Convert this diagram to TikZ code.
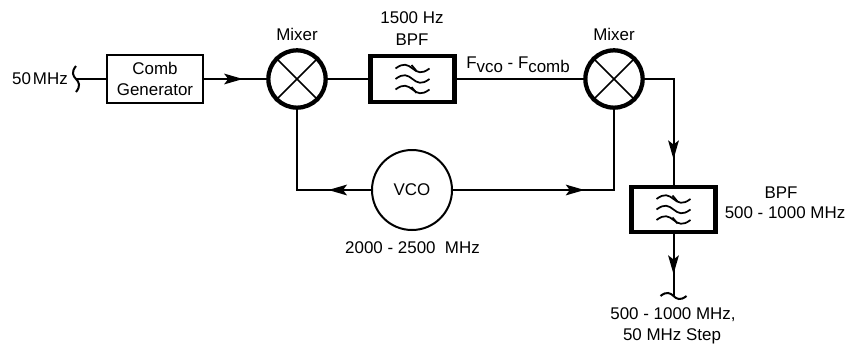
\documentclass[tikz,border=0pt]{standalone}
\usepackage{fontspec}
\setmainfont{Liberation Sans}
\usepackage{tikz}
\usetikzlibrary{arrows.meta,decorations.markings}

\tikzset{
  wire/.style={line width=1.5pt},
  tipat/.style={postaction={decorate,decoration={markings,
    mark=at position #1 with {\arrow{Stealth[length=14pt,width=8pt,inset=3pt]}}}}},
  label/.style={inner sep=0pt,font=\fontsize{12.7}{14}\selectfont},
  mixer/.style={circle,draw,line width=3.2pt,minimum size=43pt,inner sep=0pt},
  filterbox/.style={rectangle,draw,line width=3.2pt,minimum width=63pt,minimum height=34pt,inner sep=0pt},
  wiggle/.pic={\draw[wire] (-13,0) .. controls (-7,-5) and (-3,-3) .. (0,0) .. controls (3,3) and (7,5) .. (13,0);},
  waves/.pic={
    \foreach \dy in {-10.5,0,10.5}
      \draw[line width=1.3pt] (-17,\dy) .. controls (-9,\dy-6) and (-5,\dy-4) .. (0,\dy) .. controls (5,\dy+4) and (9,\dy+6) .. (17,\dy);
    \draw[line width=1.3pt] (-1,-14) -- (4,-8) (-1,8) -- (4,14);
  }
}

\begin{document}
\begin{tikzpicture}[x=0.75pt,y=-0.75pt]
  \useasboundingbox (0,0) rectangle (856,343);
  % blocks
  \node[rectangle,draw,wire,minimum width=72pt,minimum height=36pt,inner sep=0pt,align=center,font=\fontsize{12.7}{15.5}\selectfont] (comb) at (155,79) {Comb\\Generator};
  \node[mixer] (mixa) at (297,79) {};
  \node[mixer] (mixb) at (614,79) {};
  \node[filterbox] (bpfa) at (412.5,79) {};
  \node[filterbox] (bpfb) at (673.5,209.5) {};
  \node[circle,draw,wire,minimum size=60pt,inner sep=0pt,font=\fontsize{12.7}{14}\selectfont] (vco) at (412,190) {VCO};
  \draw[line width=1.3pt] (mixa.45) -- (mixa.225) (mixa.135) -- (mixa.315);
  \draw[line width=1.3pt] (mixb.45) -- (mixb.225) (mixb.135) -- (mixb.315);
  \pic at (412.5,79) {waves};
  \pic at (673.5,209.5) {waves};
  % free ends
  \coordinate (inp) at (76,79);
  \coordinate (outp) at (673.5,296);
  \pic[rotate=90,yscale=-1] at (inp) {wiggle};
  \pic at (outp) {wiggle};
  % connectors
  \draw[wire] (inp) -- (comb);
  \draw[wire,tipat=0.625] (comb) -- (mixa);
  \draw[wire] (mixa) -- (bpfa);
  \draw[wire] (bpfa) -- (mixb);
  \draw[wire,tipat=0.81] (mixb.east) -| (bpfb.north);
  \draw[wire,tipat=0.645] (bpfb.south) -- (outp);
  \draw[wire,tipat=0.277] (vco.west) -| (mixa.south);
  \draw[wire,tipat=0.545] (vco.east) -| (mixb.south);
  % labels
  \node[label,anchor=east] (linp) at (68,79) {50\kern1.5pt MHz};
  \node[label] (lmixa) at (297,34) {Mixer};
  \node[label] (lmixb) at (614,34) {Mixer};
  \node[label] (lbpfa) at (412,18) {1500 Hz};
  \node[label] (lbpfb) at (412,40) {BPF};
  \node[label,anchor=west] (ldiff) at (466,65) {F\raisebox{-3pt}{vco} - F\raisebox{-3pt}{comb}};
  \node[label] (lvco) at (412.5,248) {2000 - 2500\kern7pt MHz};
  \node[label] (lbpfc) at (781,193) {BPF};
  \node[label] (lbpfd) at (785,213) {500 - 1000 MHz};
  \node[label] (lout) at (673,315) {500 - 1000 MHz,};
  \node[label] (lstep) at (672,336) {50 MHz Step};
\end{tikzpicture}
\end{document}
